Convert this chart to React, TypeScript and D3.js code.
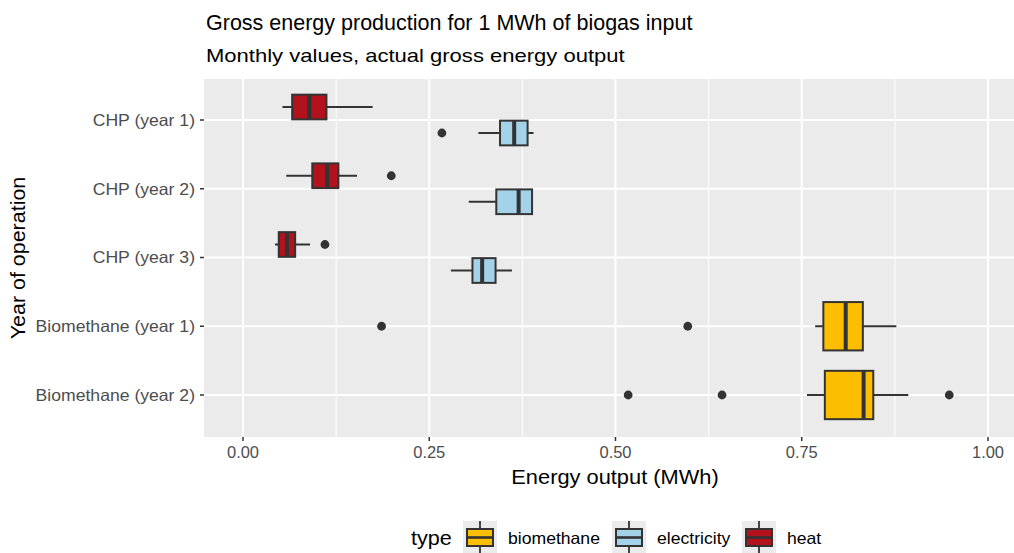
import React from "react"
import * as d3 from "d3"

// rows of the chart, top to bottom
const categories = [
  "CHP (year 1)",
  "CHP (year 2)",
  "CHP (year 3)",
  "Biomethane (year 1)",
  "Biomethane (year 2)",
]

const types = ["biomethane", "electricity", "heat"]
const typeColors = ["#FBBE00", "#A4D2E9", "#B2121B"]

// box stats: [whisker low, q1, median, q3, whisker high]
const heatBoxes = [
  [0.053, 0.066, 0.089, 0.112, 0.174],
  [0.058, 0.093, 0.113, 0.128, 0.153],
  [0.043, 0.048, 0.059, 0.07, 0.09],
]
const heatOutliers = [[], [0.199], [0.11]]

const electricityBoxes = [
  [0.316, 0.345, 0.364, 0.382, 0.39],
  [0.303, 0.34, 0.37, 0.388, 0.389],
  [0.279, 0.308, 0.321, 0.339, 0.361],
]
const electricityOutliers = [[0.267], [], []]

const biomethaneBoxes = [
  [0.768, 0.779, 0.809, 0.832, 0.877],
  [0.757, 0.781, 0.833, 0.846, 0.893],
]
const biomethaneOutliers = [
  [0.186, 0.597],
  [0.517, 0.643, 0.948],
]

const xTicks = [0, 0.25, 0.5, 0.75, 1]
const xMinor = [0.125, 0.375, 0.625, 0.875]

const W = 1014
const H = 553
const panel = { left: 204, right: 1014, top: 79, bottom: 437 }
const font = "'Liberation Sans', Arial, sans-serif"
const ink = "#333333"

type Box = {
  cat: string
  type: string
  stats: number[]
  outliers: number[]
  offset: number
  size: number
}

// text that is a little wider than the font gives, like the reference
const SText = ({ x, y, sx = 1, size, anchor = "start", fill = "#000", rotate = 0, children }: any) => (
  <text
    transform={`translate(${x},${y}) rotate(${rotate}) scale(${sx},1)`}
    fontSize={size}
    textAnchor={anchor}
    fill={fill}
  >
    {children}
  </text>
)

export default function App() {
  const x = d3.scaleLinear().domain([0, 1]).range([243, 988])
  const y = d3.scalePoint().domain(categories).range([120, 395])
  const dodge = 52

  const boxes: Box[] = []
  categories.slice(0, 3).forEach((cat, i) => {
    boxes.push({ cat, type: "heat", stats: heatBoxes[i], outliers: heatOutliers[i], offset: -dodge / 4, size: (dodge / 2) * 0.95 })
    boxes.push({ cat, type: "electricity", stats: electricityBoxes[i], outliers: electricityOutliers[i], offset: dodge / 4, size: (dodge / 2) * 0.95 })
  })
  categories.slice(3).forEach((cat, i) => {
    boxes.push({ cat, type: "biomethane", stats: biomethaneBoxes[i], outliers: biomethaneOutliers[i], offset: 0, size: dodge * 0.93 })
  })
  const color = d3.scaleOrdinal<string, string>().domain(types).range(typeColors)

  const legendKeys = [463, 612, 742]
  const legendLabels = [508, 657, 787]
  const centerX = 615

  return (
    <svg width={W} height={H} style={{ position: "absolute", left: 0, top: 0, background: "#fff" }} fontFamily={font}>
      <defs>
        <clipPath id="panel">
          <rect x={panel.left} y={panel.top} width={panel.right - panel.left} height={panel.bottom - panel.top} />
        </clipPath>
      </defs>
      <rect x={panel.left} y={panel.top} width={panel.right - panel.left} height={panel.bottom - panel.top} fill="#EBEBEB" />
      <g clipPath="url(#panel)">
        {xMinor.map(t => (
          <line key={"m" + t} x1={x(t)} x2={x(t)} y1={panel.top} y2={panel.bottom} stroke="#fff" strokeWidth={1} />
        ))}
        {xTicks.map(t => (
          <line key={"g" + t} x1={x(t)} x2={x(t)} y1={panel.top} y2={panel.bottom} stroke="#fff" strokeWidth={2} />
        ))}
        {categories.map(c => (
          <line key={c} x1={panel.left} x2={panel.right} y1={y(c)} y2={y(c)} stroke="#fff" strokeWidth={2} />
        ))}
        {boxes.map((b, i) => {
          const cy = (y(b.cat) as number) + b.offset
          const [lo, q1, med, q3, hi] = b.stats
          return (
            <g key={i}>
              <line x1={x(lo)} x2={x(q1)} y1={cy} y2={cy} stroke={ink} strokeWidth={2} />
              <line x1={x(q3)} x2={x(hi)} y1={cy} y2={cy} stroke={ink} strokeWidth={2} />
              <rect x={x(q1)} y={cy - b.size / 2} width={x(q3) - x(q1)} height={b.size} fill={color(b.type)} stroke={ink} strokeWidth={2} />
              <line x1={x(med)} x2={x(med)} y1={cy - b.size / 2} y2={cy + b.size / 2} stroke={ink} strokeWidth={4} />
              {b.outliers.map((o, j) => (
                <circle key={j} cx={x(o)} cy={cy} r={4.4} fill={ink} />
              ))}
            </g>
          )
        })}
      </g>

      {/* y axis */}
      {categories.map(c => (
        <g key={c}>
          <line x1={200} x2={panel.left} y1={y(c)} y2={y(c)} stroke={ink} strokeWidth={1.5} />
          <SText x={195} y={(y(c) as number) + 5.8} size={16.3} sx={1.08} anchor="end" fill="#4D4D4D">{c}</SText>
        </g>
      ))}
      {/* x axis */}
      {xTicks.map(t => (
        <g key={t}>
          <line x1={x(t)} x2={x(t)} y1={panel.bottom} y2={panel.bottom + 4} stroke={ink} strokeWidth={1.5} />
          <SText x={x(t)} y={458} size={16} sx={1.03} anchor="middle" fill="#4D4D4D">{d3.format(".2f")(t)}</SText>
        </g>
      ))}
      <SText x={centerX} y={484} size={19.5} sx={1.12} anchor="middle">Energy output (MWh)</SText>
      <SText x={25} y={(panel.top + panel.bottom) / 2} rotate={-90} size={19.5} sx={1.1} anchor="middle">Year of operation</SText>

      {/* titles */}
      <SText x={206} y={30} size={21.5}>Gross energy production for 1 MWh of biogas input</SText>
      <SText x={206} y={62} size={19} sx={1.16}>Monthly values, actual gross energy output</SText>

      {/* legend */}
      <SText x={411} y={545} size={20} sx={1.08}>type</SText>
      {types.map((t, i) => {
        const kx = legendKeys[i]
        const cx = kx + 17
        return (
          <g key={t}>
            <rect x={kx} y={521} width={34} height={34} fill="#EBEBEB" />
            <line x1={cx} x2={cx} y1={521} y2={555} stroke={ink} strokeWidth={1.8} />
            <rect x={kx + 4} y={529} width={26} height={17} fill={typeColors[i]} stroke={ink} strokeWidth={2} />
            <line x1={kx + 4} x2={kx + 30} y1={537.5} y2={537.5} stroke={ink} strokeWidth={2.6} />
            <SText x={legendLabels[i]} y={544} size={16.3} sx={1.08}>{t}</SText>
          </g>
        )
      })}
    </svg>
  )
}
